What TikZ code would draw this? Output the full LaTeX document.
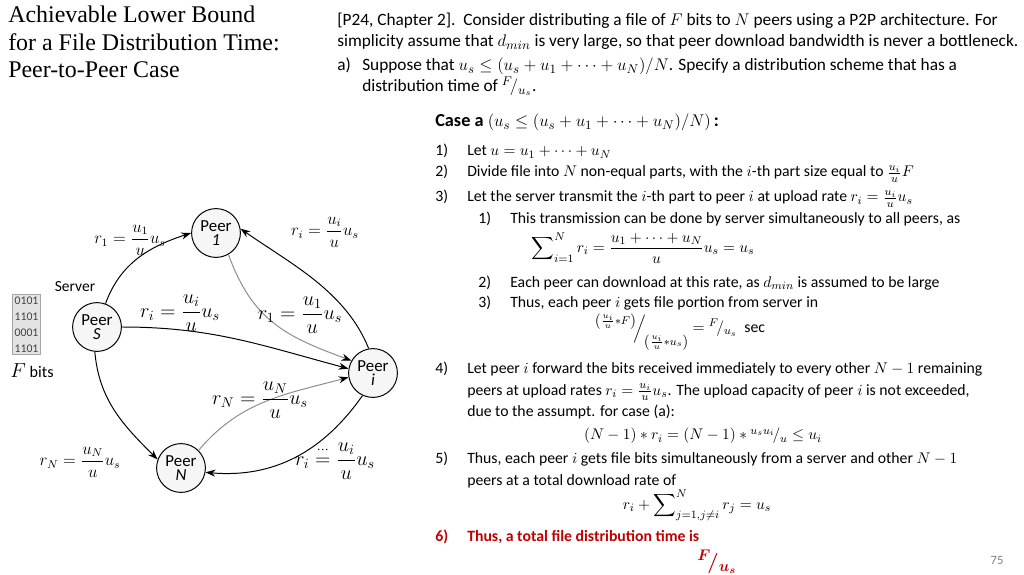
\documentclass[tikz,border=0pt]{standalone}
\usepackage{amsmath,amssymb}
\usepackage{fontspec}
\setmainfont{Carlito}
\newfontfamily\titlefont{Liberation Serif}
\usetikzlibrary{arrows.meta}
\definecolor{slidered}{RGB}{192,0,0}

\begin{document}
\begin{tikzpicture}[x=0.025cm,y=0.025cm,
    peer/.style={circle,draw,line width=0.7pt,fill=gray!7,minimum size=1.22cm,inner sep=0pt,align=center,font=\fontsize{12}{12}\selectfont},
    flow/.style={-{Stealth[length=7pt,width=5pt]},line width=0.7pt},
    relay/.style={flow,draw=black!45,-{Stealth[length=7pt,width=5pt,black]}},
    rate/.style={inner sep=1pt,font=\fontsize{11.7}{11.7}\selectfont},
    bigrate/.style={inner sep=1pt,font=\fontsize{14.5}{14.5}\selectfont},
    txt/.style={anchor=base west,inner sep=0pt,font=\fontsize{11.2}{14}\selectfont},
    head/.style={txt,font=\fontsize{12.3}{14}\selectfont},
    eqn/.style={inner sep=0pt,font=\fontsize{11.2}{14}\selectfont}]
\useasboundingbox (0,0) rectangle (1024,574);

% title
\node[anchor=north west,inner sep=0pt,align=left,font=\titlefont\fontsize{17}{19.3}\selectfont] (title) at (8,568)
    {Achievable Lower Bound\\for a File Distribution Time:\\Peer-to-Peer Case};

% the peers
\node[peer] (s) at (97,247) {Peer\\[-2pt]\textit{S}};
\node[peer] (p1) at (216,341) {Peer\\[-2pt]\textit{1}};
\node[peer] (pi) at (373,201) {Peer\\[-2pt]\textit{i}};
\node[peer] (pn) at (181,106) {Peer\\[-2pt]\textit{N}};
\node[font=\fontsize{11}{11}\selectfont] (server) at (75,287) {Server};

% the file
\node[draw=gray!70,fill=gray!22,inner sep=1.5pt,align=center,font=\fontsize{8.3}{11.3}\selectfont,text=black!75] (file) at (26.5,249.5)
    {0101\\1101\\0001\\1101};
\node[font=\fontsize{11.5}{11.5}\selectfont] (fbits) at (32,203) {{\fontsize{15}{15}\selectfont$F$} bits};

% server to peers
\draw[flow] (s.70) to[out=70,in=198] (p1.west);
\draw[flow] (s.east) to[out=0,in=165] (pi.170);
\draw[flow] (s.265) to[out=-85,in=135] (pn.160);
\node[rate] (r1) at (130,334) {$r_1 = \dfrac{u_1}{u}u_s$};
\node[bigrate] (ri) at (180,261) {$r_i = \dfrac{u_i}{u}u_s$};
\node[rate] (rn) at (80,112) {$r_N = \dfrac{u_N}{u}u_s$};

% peer i forwards and receives
\draw[relay] (p1.-60) to[out=-70,in=160,looseness=1.1] (pi.150);
\draw[flow] (pi.100) to[out=112,in=-35,looseness=0.9] (p1.10);
\draw[relay] (pn.45) to[out=50,in=195] (pi.190);
\draw[flow] (pi.-115) to[out=-125,in=-5] (pn.-10);
\node[bigrate] (r1i) at (300,259) {$r_1 = \dfrac{u_1}{u}u_s$};
\node[rate] (ri1) at (325,342) {$r_i = \dfrac{u_i}{u}u_s$};
\node[bigrate] (rni) at (260,174) {$r_N = \dfrac{u_N}{u}u_s$};
\node[bigrate] (rin) at (335,113) {$r_i \overset{\cdots}{=} \dfrac{u_i}{u}u_s$};

% problem statement
\node[head] (l1) at (337,548) {[P24, Chapter 2].\ \ Consider distributing a file of $F$ bits to $N$ peers using a P2P architecture. For};
\node[head] (l2) at (337,527) {simplicity assume that $d_{min}$ is very large, so that peer download bandwidth is never a bottleneck.};
\node[head] (qa) at (337,503) {a)};
\node[head] (l3) at (362,503) {Suppose that $u_s \le (u_s+u_1+\cdots+u_N)/N$. Specify a distribution scheme that has a};
\node[head] (l4) at (362,482) {distribution time of ${}^F\!/_{u_s}$.};

% solution
\node[txt,font=\fontsize{13}{14}\selectfont] (case) at (435,447) {\textbf{Case a} $(u_s \le (u_s+u_1+\cdots+u_N)/N)$\,\textbf{:}};
\node[txt] (n1) at (435,418) {1)};
\node[txt] (t1) at (467,418) {Let $u = u_1+\cdots+u_N$};
\node[txt] (n2) at (435,397) {2)};
\node[txt] (t2) at (467,397) {Divide file into $N$ non-equal parts, with the $i$-th part size equal to $\frac{u_i}{u}F$};
\node[txt] (n3) at (435,372) {3)};
\node[txt] (t3) at (467,372) {Let the server transmit the $i$-th part to peer $i$ at upload rate $r_i = \frac{u_i}{u}u_s$};
\node[txt] (m1) at (478,351) {1)};
\node[txt] (s1) at (510,351) {This transmission can be done by server simultaneously to all peers, as};
\node[eqn] (e1) at (643,326) {$\displaystyle\sum\nolimits_{i=1}^{N} r_i = \frac{u_1+\cdots+u_N}{u}u_s = u_s$};
\node[txt] (m2) at (478,287) {2)};
\node[txt] (s2) at (510,287) {Each peer can download at this rate, as $d_{min}$ is assumed to be large};
\node[txt] (m3) at (478,267) {3)};
\node[txt] (s3) at (510,267) {Thus, each peer $i$ gets file portion from server in};
\node[eqn] (e2) at (680,242) {$\raisebox{1.1ex}{$\scriptstyle\left(\frac{u_i}{u}*F\right)$}\!\Big/\!\raisebox{-1.7ex}{$\scriptstyle\left(\frac{u_i}{u}*u_s\right)$} = {}^F\!/_{u_s}$\ \ sec};
\node[txt] (n4) at (435,201) {4)};
\node[txt] (t4) at (467,201) {Let peer $i$ forward the bits received immediately to every other $N-1$ remaining};
\node[txt] (t4b) at (467,179) {peers at upload rates $r_i = \frac{u_i}{u}u_s$. The upload capacity of peer $i$ is not exceeded,};
\node[txt] (t4c) at (467,158) {due to the assumpt. for case (a):};
\node[eqn] (e3) at (703,138) {$(N-1)*r_i = (N-1)*{}^{u_s u_i}\!/_{u} \le u_i$};
\node[txt] (n5) at (435,111) {5)};
\node[txt] (t5) at (467,111) {Thus, each peer $i$ gets file bits simultaneously from a server and other $N-1$};
\node[txt] (t5b) at (467,89) {peers at a total download rate of};
\node[eqn] (e4) at (697,69) {$\displaystyle r_i + \sum\nolimits_{j=1,j\neq i}^{N} r_j = u_s$};
\node[txt,text=slidered] (n6) at (435,33) {\textbf{6)}};
\node[txt,text=slidered] (t6) at (467,33) {\textbf{Thus, a total file distribution time is}};
\node[eqn,text=slidered,font=\fontsize{15}{15}\selectfont] (e5) at (717,12) {$\boldsymbol{{}^F\!/_{u_s}}$};

\node[text=gray,font=\fontsize{9}{9}\selectfont] (page) at (997,14) {75};
\end{tikzpicture}
\end{document}
